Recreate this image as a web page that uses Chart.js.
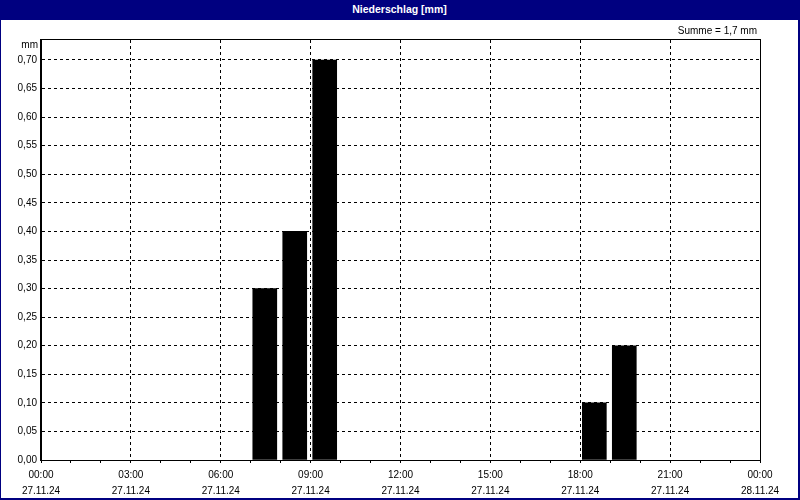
<!DOCTYPE html>
<html>
<head>
<meta charset="utf-8">
<script src="https://cdn.jsdelivr.net/npm/chart.js@4/dist/chart.umd.min.js"></script>
<style>
  html, body { margin: 0; padding: 0; background: #fff; }
  #frame {
    position: relative; width: 800px; height: 500px; box-sizing: border-box;
    border-left: 1px solid #000080; border-right: 2px solid #000080; border-bottom: 2px solid #000080;
    background: #fff; overflow: hidden;
  }
  #titlebar {
    position: absolute; left: 0; top: 0; width: 100%; height: 20px;
    background: #000080; color: #fff; text-align: center;
    font: bold 10.5px "Liberation Sans", Arial, sans-serif; line-height: 19px;
  }
  #chartBox { position: absolute; left: -1px; top: 0; width: 800px; height: 500px; }
</style>
</head>
<body>
<div id="frame">
  <div id="chartBox"><canvas id="rainChart" width="800" height="500"></canvas></div>
  <div id="titlebar">Niederschlag [mm]</div>
</div>
<script>
// ── Data ────────────────────────────────────────────────────────

// hour of day the measurement interval starts (27.11.24)
const barHours  = [7, 8, 9, 18, 19];
const rainMm    = [0.30, 0.40, 0.70, 0.10, 0.20];

const xTickTimes = ["00:00", "03:00", "06:00", "09:00", "12:00", "15:00", "18:00", "21:00", "00:00"];
const xTickDates = ["27.11.24", "27.11.24", "27.11.24", "27.11.24", "27.11.24", "27.11.24", "27.11.24", "27.11.24", "28.11.24"];

const unitLabel = "mm";
const sumLabel  = "Summe = 1,7 mm";

const FONT = "'Liberation Sans', Arial, sans-serif";

// ── Plugins ─────────────────────────────────────────────────────

const plotFrame = {
  id: "plotFrame",
  afterDraw(chart) {
    const { ctx, chartArea: a } = chart;
    ctx.save();
    ctx.strokeStyle = "#000";
    ctx.lineWidth = 1;
    ctx.setLineDash([]);
    ctx.strokeRect(Math.round(a.left) - 0.5, Math.round(a.top) - 0.5,
                   Math.round(a.right - a.left) + 1, Math.round(a.bottom - a.top) + 1);

    ctx.fillStyle = "#000";
    ctx.font = "10px " + FONT;
    ctx.textBaseline = "middle";
    ctx.textAlign = "right";
    ctx.fillText(unitLabel, a.left - 3, a.top + 5);
    ctx.fillText(sumLabel, a.right - 3, a.top - 9);
    ctx.restore();
  },
};

// ── Chart ───────────────────────────────────────────────────────

const ctx = document.getElementById("rainChart").getContext("2d");

new Chart(ctx, {
  type: "bar",
  data: {
    datasets: [
      {
        label: "Niederschlag",
        data: barHours.map((h, i) => ({ x: h + 0.47, y: rainMm[i] })),
        backgroundColor: "#000",
        borderWidth: 0,
        barThickness: 24,
      },
    ],
  },
  options: {
    responsive: false,
    animation: false,
    layout: { padding: { top: 40, left: 0, right: 40, bottom: 0 } },
    plugins: {
      legend: { display: false },
      tooltip: { enabled: false },
      title: { display: false },
    },
    scales: {
      x: {
        type: "linear",
        offset: false,
        min: 0,
        max: 24,
        afterBuildTicks: (scale) => {
          scale.ticks = [];
          for (let h = 0; h <= 24; h++) scale.ticks.push({ value: h });
        },
        afterFit: (scale) => { scale.height = 40; },
        grid: {
          offset: false,
          color: (c) => (c.tick && c.tick.value % 3 === 0 && c.tick.value > 0 && c.tick.value < 24 ? "#000" : "rgba(0,0,0,0)"),
          lineWidth: 1,
          drawTicks: true,
          tickLength: 3,
          tickColor: "#000",
          tickBorderDash: [],
        },
        border: { display: true, color: "#000", width: 1, dash: [3, 3] },
        ticks: {
          autoSkip: false,
          maxRotation: 0,
          padding: 4,
          color: "#000",
          font: { family: FONT, size: 10, lineHeight: 1.6 },
          callback: (val) => (val % 3 === 0 ? [xTickTimes[val / 3], xTickDates[val / 3]] : ""),
        },
      },
      y: {
        min: 0,
        max: 0.735,
        afterBuildTicks: (scale) => {
          scale.ticks = [];
          for (let i = 0; i <= 14; i++) scale.ticks.push({ value: i * 0.05 });
        },
        afterFit: (scale) => { scale.width = 41; },
        grid: {
          color: (c) => (c.tick && c.tick.value > 0.001 ? "#000" : "rgba(0,0,0,0)"),
          lineWidth: 1,
          drawTicks: false,
        },
        border: { display: true, color: "#000", width: 1, dash: [3, 3] },
        ticks: {
          padding: 4,
          color: "#000",
          font: { family: FONT, size: 10 },
          callback: (val) => Number(val).toFixed(2).replace(".", ","),
        },
      },
    },
  },
  plugins: [plotFrame],
});
</script>
</body>
</html>
